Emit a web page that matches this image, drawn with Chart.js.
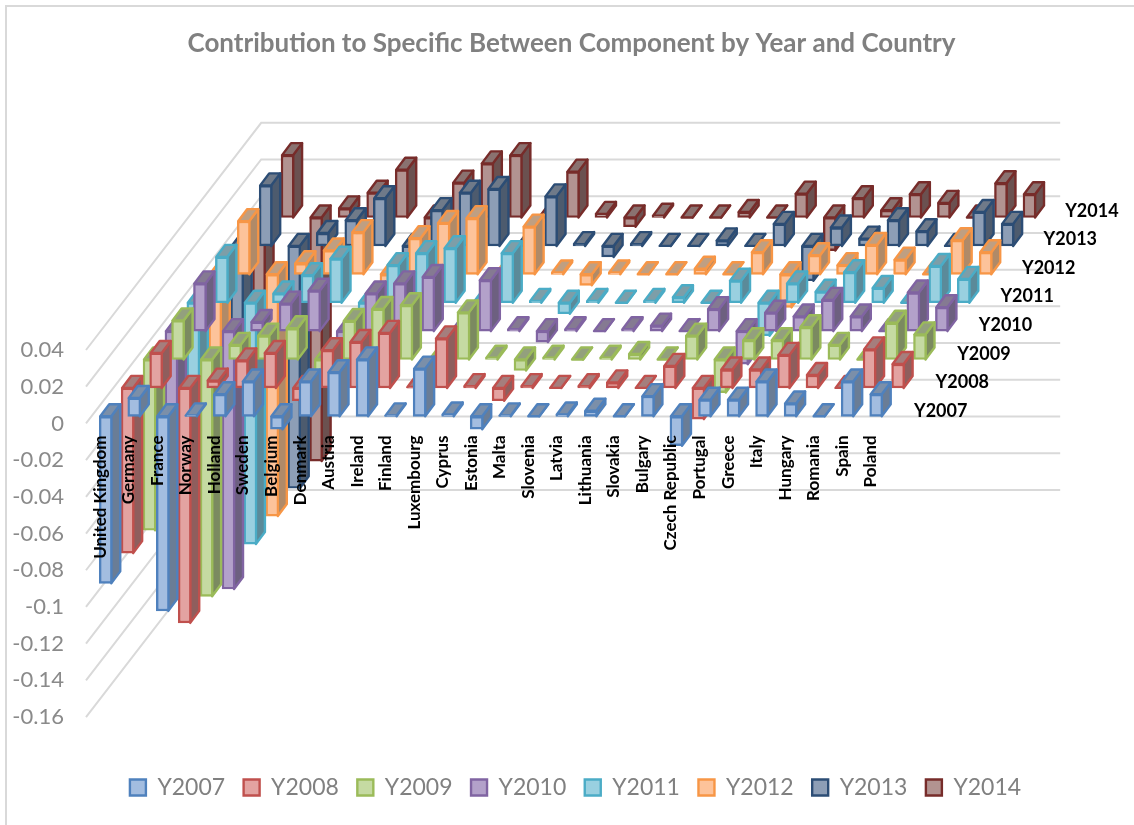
<!DOCTYPE html>
<html><head><meta charset="utf-8">
<style>html,body{margin:0;padding:0;background:#fff}#w{position:relative;width:1134px;height:825px}</style>
<script src="https://cdn.jsdelivr.net/npm/chart.js@4"></script></head>
<body><div id="w"><canvas id="c" width="1134" height="825"></canvas></div>
<script>
const categories=["United Kingdom","Germany","France","Norway","Holland","Sweden","Belgium","Denmark","Austria","Ireland","Finland","Luxembourg","Cyprus","Estonia","Malta","Slovenia","Latvia","Lithuania","Slovakia","Bulgary","Czech Republic","Portugal","Greece","Italy","Hungary","Romania","Spain","Poland"];
const seriesNames=["Y2007","Y2008","Y2009","Y2010","Y2011","Y2012","Y2013","Y2014"];
const y2007=[-0.091,0.010,-0.106,0.0005,0.012,0.019,-0.007,0.019,0.024,0.031,0.0005,0.026,0.001,-0.007,0.0005,0,0.001,0.003,0,0.011,-0.016,0.009,0.009,0.019,0.007,0,0.019,0.012];
const y2008=[-0.090,0.019,-0.128,0.004,0.015,0.019,-0.007,0.0205,0.025,0.030,0.0005,0.027,0.001,-0.007,0.001,0,0.001,0.003,0,0.012,-0.017,0.010,0.010,0.018,0.007,0,0.021,0.013];
const y2009=[-0.093,0.0213,-0.129,0.008,0.013,0.017,-0.007,0.021,0.0275,0.0296,0,0.0257,0.001,-0.006,0.001,0,0.001,0.003,0,0.013,-0.018,0.0105,0.0105,0.0176,0.008,0,0.020,0.0137];
const y2010=[-0.094,0.026,-0.1405,0.005,0.015,0.022,-0.007,0.0205,0.026,0.0295,0,0.0277,0.001,-0.006,0.001,0,0.001,0.003,0,0.012,-0.018,0.010,0.008,0.017,0.008,0,0.021,0.013];
const y2011=[-0.092,0.025,-0.1315,0.005,0.015,0.024,-0.006,0.0205,0.027,0.0297,0,0.027,0.001,-0.006,0.001,0,0.001,0.003,0,0.012,-0.018,0.0105,0.006,0.0166,0.008,0,0.020,0.013];
const y2012=[-0.091,0.029,-0.1317,0.006,0.013,0.023,-0.006,0.0197,0.028,0.0306,0,0.026,0.001,-0.006,0.001,0,0,0.003,0,0.012,-0.018,0.0104,0.005,0.016,0.008,0,0.0186,0.012];
const y2013=[-0.090,0.033,-0.132,0.007,0.014,0.026,-0.006,0.0195,0.029,0.031,0,0.027,0.001,-0.006,0.001,0,0,0.003,0,0.012,-0.019,0.010,0.004,0.014,0.008,0,0.0185,0.012];
const y2014=[-0.090,0.034,-0.1327,0.005,0.0135,0.026,-0.006,0.019,0.0295,0.034,0,0.025,0.002,-0.005,0.001,0,0,0.003,0,0.013,-0.018,0.0105,0.004,0.0127,0.008,0,0.0187,0.0127];
const seriesValues=[y2007,y2008,y2009,y2010,y2011,y2012,y2013,y2014];
const edge =["#4f81bd","#c0504d","#9bbb59","#8064a2","#4bacc6","#f79646","#2c4d75","#772c2a"];
const front=["#a3bde0","#e3a3a1","#c5daa2","#b3a1ca","#99d0e0","#fdc39a","#8d9eb6","#b29391"];
const side =["#6a7d96","#8f5e5d","#7b8a60","#6d6080","#5b8a99","#b08a68","#4d5b6e","#6b5150"];
const topF =["#7b8fa9","#a57e7d","#93a07d","#857a92","#7d9ea8","#bf9f82","#6f7a89","#8a7270"];
const DX=21.9,DY=-28.4,SX=9,SY=-12;
const shift=k=>[DX*(k+.25),DY*(k+.25)];
const threeD={id:'threeD',
 afterLayout(chart){
  const t=chart.titleBlock,l=chart.legend;
  t.left+=4.5;t.right+=4.5;l.left+=8.5;l.right+=8.5;
 },
 beforeDraw(chart){
  const {ctx,width,height}=chart;
  ctx.save();ctx.strokeStyle='#d9d9d9';ctx.lineWidth=2;ctx.beginPath();
  ctx.moveTo(6,height);ctx.lineTo(6,6);ctx.lineTo(width,6);ctx.stroke();ctx.restore();
 },
 beforeDatasetsDraw(chart){
  const {ctx,chartArea:a}=chart,ys=chart.scales.y;
  ctx.save();ctx.strokeStyle='#d9d9d9';ctx.lineWidth=2;
  ys.ticks.forEach(t=>{const y=ys.getPixelForValue(t.value),bx=a.left+DX*8,by=y+DY*8;
   ctx.beginPath();ctx.moveTo(a.left,y);ctx.lineTo(bx,by);ctx.lineTo(a.right+DX*8,by);ctx.stroke();});
  ctx.restore();
 },
 beforeDatasetDraw(chart,{index,meta}){
  const {ctx}=chart,[tx,ty]=shift(index);
  ctx.save();ctx.translate(tx,ty);ctx.lineWidth=2.4;ctx.lineJoin='round';ctx.strokeStyle=edge[index];
  meta.data.forEach(el=>{
   const x0=el.x-el.width/2+1,x1=el.x+el.width/2-1,top=Math.min(el.y,el.base),bot=Math.max(el.y,el.base);
   ctx.beginPath();ctx.moveTo(x1,top);ctx.lineTo(x1+SX,top+SY);ctx.lineTo(x1+SX,bot+SY);ctx.lineTo(x1,bot);ctx.closePath();
   ctx.fillStyle=side[index];ctx.fill();ctx.stroke();
   ctx.beginPath();ctx.moveTo(x0,top);ctx.lineTo(x0+SX,top+SY);ctx.lineTo(x1+SX,top+SY);ctx.lineTo(x1,top);ctx.closePath();
   ctx.fillStyle=topF[index];ctx.fill();ctx.stroke();
  });
 },
 afterDatasetDraw(chart){chart.ctx.restore();},
 afterDraw(chart){
  const {ctx,chartArea:a}=chart;
  ctx.save();ctx.font='bold 18px Lato';ctx.fillStyle='#000';ctx.textBaseline='middle';
  seriesNames.forEach((n,k)=>ctx.fillText(n,a.right+29+21.6*k,411-28.6*k));
  ctx.restore();
 }};
new Chart(document.getElementById('c'),{type:'bar',
 data:{labels:categories,datasets:seriesNames.map((n,k)=>({label:n,data:seriesValues[k],backgroundColor:front[k],borderColor:edge[k],borderWidth:2.4,borderSkipped:false,clip:false,barThickness:13,grouped:false,xAxisID:'x',yAxisID:'y'}))},
 options:{responsive:false,animation:false,
  layout:{padding:{left:0,right:0,top:0,bottom:16}},
  plugins:{
   title:{display:true,text:'Contribution to Specific Between Component by Year and Country',font:{family:'Lato',weight:'bold',size:26},color:'#808080',padding:{top:28,bottom:290.8}},
   legend:{position:'bottom',labels:{font:{family:'Lato',size:23},color:'#808080',boxWidth:16,boxHeight:16,padding:18.5}},
   tooltip:{enabled:false}},
  scales:{
   x:{position:{y:0},grid:{display:false},border:{display:false},
      ticks:{z:1,autoSkip:false,minRotation:90,maxRotation:90,font:{family:'Lato',weight:'bold',size:17},color:'#000',padding:4}},
   y:{min:-0.16,max:0.04,afterFit(s){s.width=86;},grid:{display:false},border:{display:false},
      ticks:{stepSize:0.02,padding:14,font:{family:'Lato',size:22},color:'#8a8a8a',callback:v=>String(Math.round(v*100)/100)}},
   reserveRight:{type:'linear',position:'right',display:true,afterFit(s){s.width=249;},grid:{display:false},border:{display:false},ticks:{display:false}},
   reserveBottom:{type:'category',position:'bottom',display:true,afterFit(s){s.height=40.4;},grid:{display:false},border:{display:false},ticks:{display:false}}
  }},
 plugins:[threeD]});
</script></body></html>
